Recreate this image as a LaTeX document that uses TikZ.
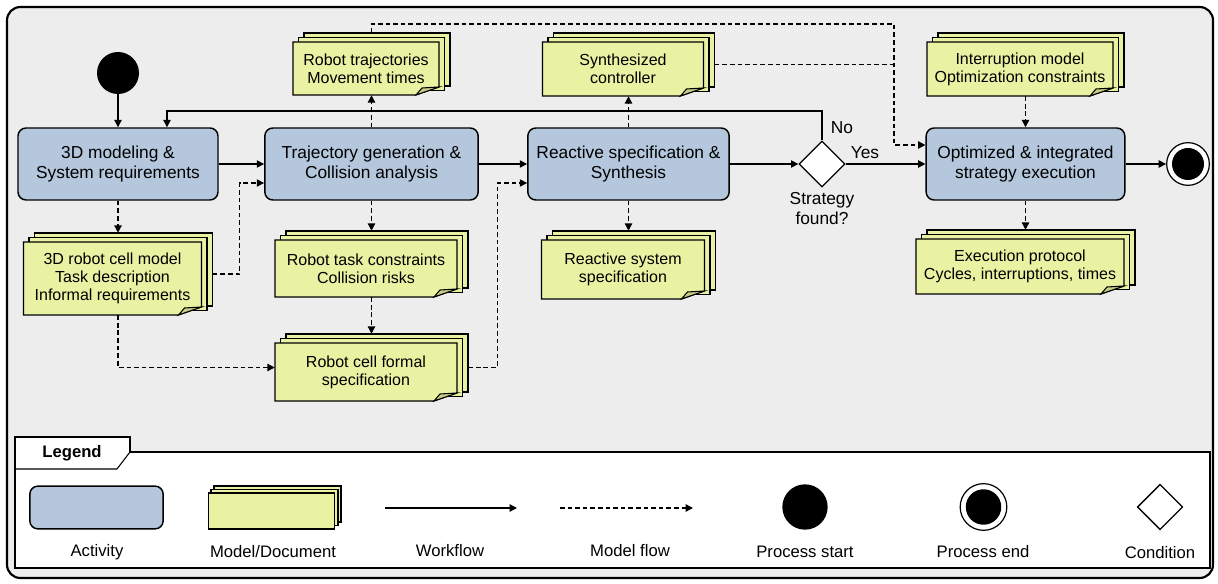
\documentclass[tikz,border=0pt]{standalone}
\usepackage{fontspec}
\setmainfont{Liberation Sans}
\usetikzlibrary{arrows.meta,shapes.geometric,fit,calc}

\definecolor{bgc}{HTML}{EDEDED}
\definecolor{actfill}{HTML}{B4C7DC}
\definecolor{docfill}{HTML}{E8F2A2}
\definecolor{foldfill}{HTML}{C9CF84}

\tikzset{
  activity/.style={draw, line width=1.1pt, fill=actfill, rounded corners=6pt,
    minimum height=54pt, align=center, inner sep=2pt, font=\fontsize{13}{15}\selectfont},
  docsheet/.style={draw, line width=0.8pt, fill=docfill},
  docfold/.style={draw, line width=0.8pt, fill=foldfill},
  doctext/.style={align=center, inner sep=0pt, font=\fontsize{12}{13.6}\selectfont},
  lbl/.style={inner sep=1pt, font=\fontsize{13}{15}\selectfont, align=center},
  leglbl/.style={inner sep=1pt, font=\fontsize{12.5}{15}\selectfont},
  flow/.style={line width=0.95pt, -{Triangle[length=5.5pt,width=5.5pt]}},
  mflow/.style={line width=1pt, dash pattern=on 3.5pt off 2.2pt, -{Triangle[length=5.5pt,width=5.5pt]}},
  mline/.style={line width=1pt, dash pattern=on 3.5pt off 2.2pt},
  startdot/.style={circle, fill=black, inner sep=0pt},
  enddot/.style={circle, draw, line width=0.9pt, fill=white, inner sep=0pt},
  cond/.style={diamond, draw, line width=0.95pt, fill=white, inner sep=0pt, minimum width=34.5pt, minimum height=34.5pt},
}

% #1 name, #2 x1, #3 y1, #4 x2, #5 y2 (front sheet), #6 text
\newcommand\docstack[6]{%
  \draw[docsheet] ({#2+11},{#3-9}) rectangle ({#4+11},{#5-9});
  \draw[docsheet] ({#2+5.5},{#3-4.5}) rectangle ({#4+5.5},{#5-4.5});
  \draw[docsheet] (#2,#3) -- (#4,#3) -- (#4,{#5-8}) -- ({#4-23},#5) -- (#2,#5) -- cycle;
  \draw[docfold] ({#4-23},#5) -- ({#4-17},{#5-7}) -- (#4,{#5-8}) -- cycle;
  \node[doctext] (#1-t) at ({(#2+#4)/2},{(#3+#5)/2}) {#6};
  \node[inner sep=0pt, fit={({#2},{#3-9}) ({#4+11},{#5})}] (#1) {};
}

\begin{document}
\begin{tikzpicture}[x=0.75pt, y=-0.75pt]
\useasboundingbox (0,0) rectangle (1218,584);
\draw[line width=1.6pt, fill=bgc, rounded corners=10pt] (7,7) rectangle (1213,578);

% activities
\node[activity, minimum width=150pt] (act1) at (118,164) {3D modeling \&\\System requirements};
\node[activity, minimum width=160pt] (act2) at (371.5,164) {Trajectory generation \&\\Collision analysis};
\node[activity, minimum width=151pt] (act3) at (628.5,164) {Reactive specification \&\\Synthesis};
\node[activity, minimum width=149pt] (act4) at (1025.5,164) {Optimized \& integrated\\strategy execution};

\node[startdot, minimum size=31.5pt] (start) at (118,73) {};
\node[enddot, minimum size=32pt] (endn) at (1188,164) {};
\fill (endn.center) circle[radius=12pt];
\node[cond] (dia) at (822,164) {};

% documents
\docstack{doc1}{293}{42}{439}{95}{Robot trajectories\\Movement times}
\docstack{doc2}{542.5}{42}{703.5}{96}{Synthesized\\controller}
\docstack{doc3}{927}{42}{1113}{96}{Interruption model\\Optimization constraints}
\docstack{doc4}{23.5}{242}{201.5}{315}{3D robot cell model\\Task description\\Informal requirements}
\docstack{doc5}{275}{240}{457}{297}{Robot task constraints\\Collision risks}
\docstack{doc6}{275}{343}{457}{401}{Robot cell formal\\specification}
\docstack{doc7}{541.5}{240}{704.5}{299}{Reactive system\\specification}
\docstack{doc8}{916}{239}{1124}{294}{Execution protocol\\Cycles, interruptions, times}

% labels
\node[lbl] (lno) at (842,128) {No};
\node[lbl] (lyes) at (865,153) {Yes};
\node[lbl] (lstrat) at (822,209) {Strategy\\found?};

% workflow
\draw[flow] (start) -- (act1);
\draw[flow] (act1) -- (act2);
\draw[flow] (act2) -- (act3);
\draw[flow] (act3) -- (dia);
\draw[flow] (dia) -- (act4);
\draw[flow] (act4) -- (endn);
\coordinate (nobend) at (822,111);
\draw[flow] (dia.north) -- (nobend) -| ($(act1.north)+(49,0)$);

% model flow
\coordinate (topbend) at (894,24);
\draw[mflow] (act1.south) -- (act1.south |- doc4.north);
\draw[mflow] (doc4.east) -- ++(27,0) |- ($(act2.west)+(0,19)$);
\draw[mflow] (act2.north) -- (act2.north |- doc1.south);
\draw[mflow] (act2.south) -- (act2.south |- doc5.north);
\draw[mflow] (doc5.south) -- (doc5.south |- doc6.north);
\draw[mflow] (doc4.south) |- (doc6.west);
\draw[mflow] (doc6.east) -- ++(29,0) |- ($(act3.west)+(0,19)$);
\draw[mflow] (act3.north) -- (act3.north |- doc2.south);
\draw[mflow] (act3.south) -- (act3.south |- doc7.north);
\draw[mflow] (doc1.north) |- (topbend) |- ($(act4.west)+(0,-19)$);
\draw[mline] (doc2.east) -- (doc2.east -| topbend);
\draw[mflow] (doc3.south) -- (doc3.south -| act4.north) -- (act4.north);
\draw[mflow] (act4.south) -- (act4.south |- doc8.north);

% legend
\draw[fill=white, line width=0.8pt] (15,437) -- (130,437) -- (130,452) -- (1210,452) -- (1210,568) -- (15,568) -- cycle;
\draw[line width=0.8pt] (130,452) -- (117,469) -- (15,469);
\node[leglbl, font=\fontsize{12.5}{15}\selectfont\bfseries] (legtitle) at (72,453) {Legend};

\node[activity, minimum width=100pt, minimum height=32pt] (legact) at (96.5,507.5) {};
\draw[docsheet] (214,486) rectangle (341,522);
\draw[docsheet] (211,489.5) rectangle (338,525.5);
\node[docsheet, minimum width=95pt, minimum height=27pt, inner sep=0pt] (legdoc) at (271.5,511) {};
\coordinate (wfa) at (385,508);
\coordinate (wfb) at (517,508);
\draw[flow] (wfa) -- (wfb);
\coordinate (mfa) at (560,508);
\coordinate (mfb) at (693,508);
\draw[mflow] (mfa) -- (mfb);
\node[startdot, minimum size=34pt] (legstart) at (805,507) {};
\node[enddot, minimum size=35pt] (legend) at (983.5,507) {};
\fill (legend.center) circle[radius=13.3pt];
\node[cond, minimum width=34pt, minimum height=34pt] (legcond) at (1160,507) {};

\node[leglbl] (l1) at (97,552) {Activity};
\node[leglbl] (l2) at (273,552) {Model/Document};
\node[leglbl] (l3) at (450,551) {Workflow};
\node[leglbl] (l4) at (630,551) {Model flow};
\node[leglbl] (l5) at (805,552) {Process start};
\node[leglbl] (l6) at (983,552) {Process end};
\node[leglbl] (l7) at (1160,553) {Condition};
\end{tikzpicture}
\end{document}
